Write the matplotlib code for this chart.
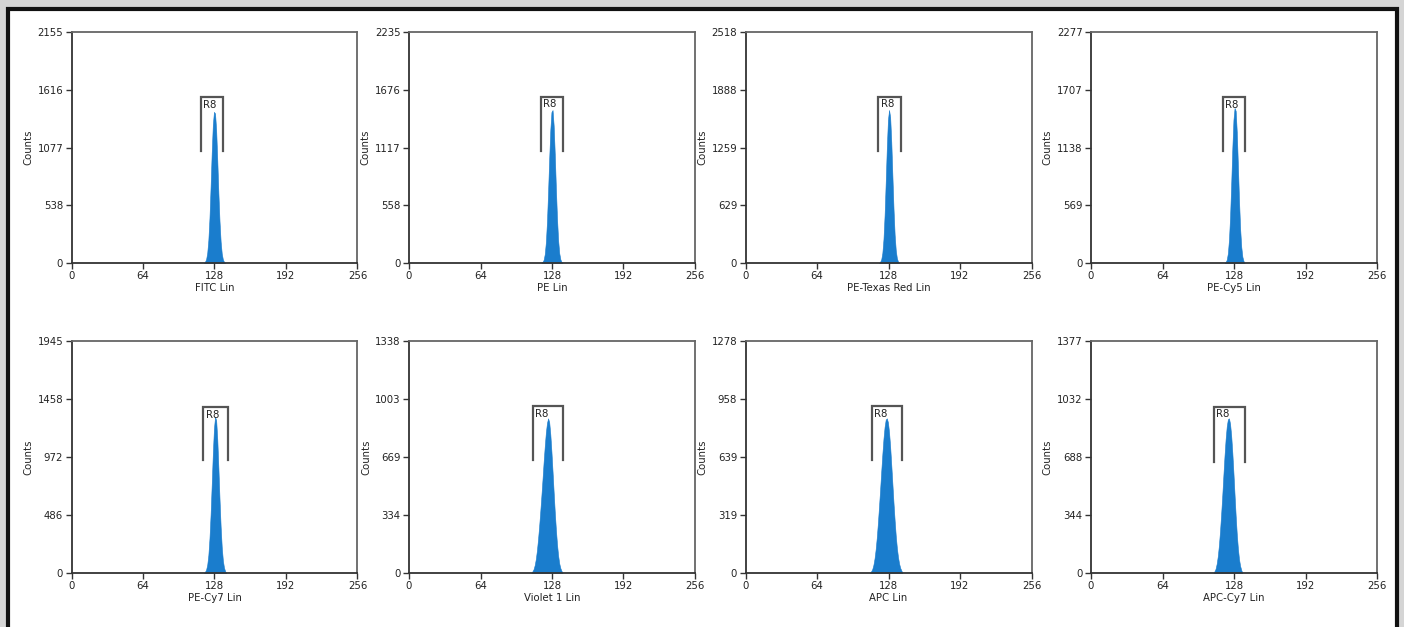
import numpy as np
import matplotlib
matplotlib.use("Agg")
import matplotlib.pyplot as plt
from matplotlib.patches import Rectangle

plt.rcParams['font.family'] = ['DejaVu Sans']

# one entry per panel, left->right, top->bottom
channels = ['FITC Lin', 'PE Lin', 'PE-Texas Red Lin', 'PE-Cy5 Lin',
            'PE-Cy7 Lin', 'Violet 1 Lin', 'APC Lin', 'APC-Cy7 Lin']
ymax = [2155, 2235, 2518, 2277, 1945, 1338, 1278, 1377]

# first channel of each non-empty stretch, then the counts per channel
first_bin = [119, 119, 120, 120, 119, 110, 112, 110]
counts = [
    [12, 35, 95, 215, 420, 710, 1030, 1290, 1410, 1395, 1240, 960, 650, 390, 200, 88, 33, 11],
    [10, 30, 85, 200, 400, 690, 1010, 1290, 1460, 1480, 1330, 1050, 720, 430, 220, 95, 35, 10],
    [12, 40, 110, 260, 520, 880, 1260, 1560, 1668, 1590, 1320, 950, 590, 310, 140, 52, 16],
    [10, 32, 95, 230, 460, 780, 1130, 1410, 1528, 1500, 1290, 960, 620, 340, 160, 62, 20],
    [10, 28, 70, 150, 290, 490, 740, 1000, 1210, 1310, 1280, 1120, 880, 620, 390, 215, 105, 45, 16],
    [10, 22, 45, 80, 130, 195, 270, 355, 445, 540, 640, 730, 810, 865, 892, 870, 800, 700, 585,
     465, 350, 250, 165, 100, 55, 28, 12],
    [10, 22, 45, 80, 130, 195, 275, 365, 460, 560, 655, 740, 805, 845, 852, 830, 775, 695, 595,
     490, 385, 290, 205, 138, 88, 52, 28, 14],
    [10, 25, 55, 100, 165, 250, 350, 460, 580, 695, 795, 870, 912, 918, 885, 815, 715, 595, 465,
     340, 230, 145, 82, 42, 18],
]

# R8 gate: low / high channel, top and leg bottom in counts
gate_lo = [115.5, 118, 119, 118, 118, 111, 113, 110]
gate_hi = [136, 138, 139.5, 138, 140.5, 138, 140.5, 137.5]
gate_top = [1549, 1609, 1813, 1636, 1394, 963, 920, 987]
gate_bot = [1045, 1087, 1224, 1107, 947, 652, 622, 660]

xticks = [0, 64, 128, 192, 256]

W, H = 1404, 627
fig = plt.figure(figsize=(W / 100, H / 100), dpi=100)
fig.patch.set_facecolor('#d5d5d5')
fig.patches.append(Rectangle((8 / W, -0.01), 1389 / W, 1 - 9 / H + 0.01, transform=fig.transFigure,
                             facecolor='white', edgecolor='#111111', linewidth=3, zorder=-10))

lefts = [71.5, 409, 745.5, 1091]
rows = [(32, 263), (341, 573)]

for i in range(8):
    r, c = divmod(i, 4)
    top, bot = rows[r]
    ax = fig.add_axes([lefts[c] / W, (H - bot) / H, 286 / W, (bot - top) / H])
    ax.patch.set_alpha(0)

    # channel centres, with an empty channel on each side so the peak closes at 0
    n = len(counts[i])
    xs = np.arange(first_bin[i] - 1, first_bin[i] + n + 1) + 0.5
    ys = [0] + counts[i] + [0]
    ax.fill_between(xs, ys, 0, color='#1a7dcd', linewidth=0.4, edgecolor='#1a7dcd')

    ax.plot([gate_lo[i], gate_lo[i], gate_hi[i], gate_hi[i]],
            [gate_bot[i], gate_top[i], gate_top[i], gate_bot[i]],
            color='#555555', lw=1.6, solid_joinstyle='miter')
    ax.text(gate_lo[i] + 2, gate_top[i] - ymax[i] * 0.012, 'R8', fontsize=7.3,
            va='top', ha='left', color='#222222')

    ax.set_xlim(0, 256)
    ax.set_ylim(0, ymax[i])
    ax.set_xticks(xticks)
    yt = [0, int(ymax[i] / 4), int(ymax[i] / 2), int(ymax[i] * 3 / 4), ymax[i]]
    ax.set_yticks(yt)
    ax.tick_params(direction='out', length=4, width=1, color='#333333',
                   labelsize=7.3, labelcolor='#222222', pad=2)
    ax.set_xlabel(channels[i], fontsize=7.3, labelpad=1, color='#222222')
    ax.set_ylabel('Counts', fontsize=7.3, labelpad=3, color='#222222')
    for s in ['left', 'bottom']:
        ax.spines[s].set_color('#333333')
        ax.spines[s].set_linewidth(1.3)
    for s in ['top', 'right']:
        ax.spines[s].set_color('#666666')
        ax.spines[s].set_linewidth(1.3)

fig.savefig('out.png', dpi=100, facecolor=fig.get_facecolor())
